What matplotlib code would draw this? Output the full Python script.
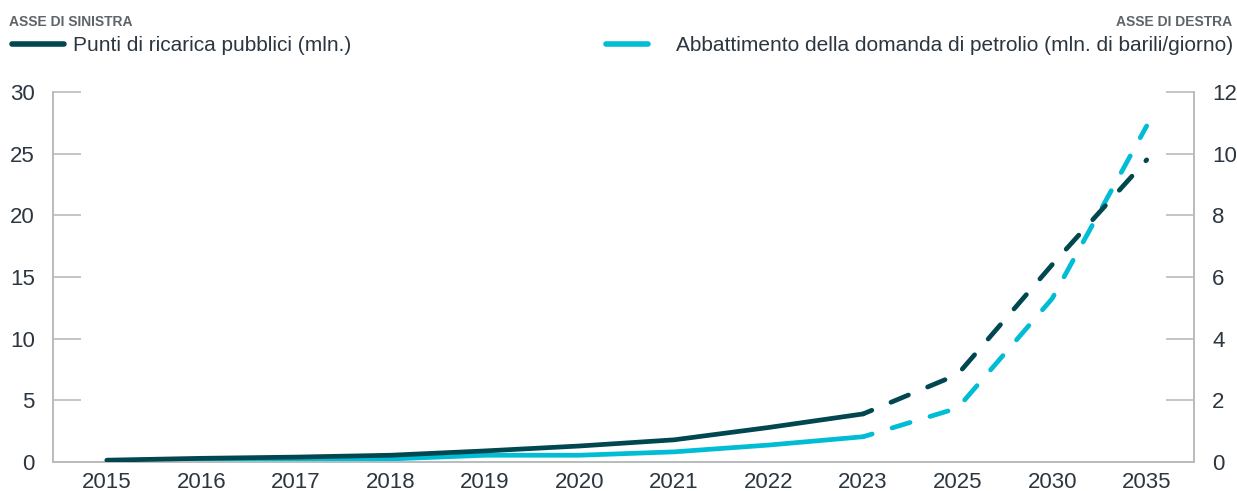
import numpy as np
import matplotlib.pyplot as plt
from matplotlib.lines import Line2D

plt.rcParams['font.family'] = ['Liberation Sans', 'DejaVu Sans']

# dati
anni = ['2015', '2016', '2017', '2018', '2019', '2020', '2021', '2022', '2023', '2025', '2030', '2035']
punti_ricarica = [0.15, 0.3, 0.4, 0.55, 0.9, 1.3, 1.8, 2.8, 3.9, 7.1, 16.0, 24.5]
abbattimento = [0.02, 0.05, 0.08, 0.1, 0.22, 0.22, 0.33, 0.55, 0.82, 1.75, 5.3, 10.9]
ultimo_storico = 8  # indice del 2023, dopo il quale le linee sono tratteggiate

col_scuro = '#00474f'
col_ciano = '#00bcd4'
col_testo = '#2b3640'
col_assi = '#b8bcbf'

x = np.arange(len(anni))

fig = plt.figure(figsize=(12.37, 4.91), dpi=100)
ax = fig.add_axes([0.0428, 0.059, 0.9224, 0.7536])
ax2 = ax.twinx()

stile = dict(lw=3.4, solid_capstyle='round', dash_capstyle='round')
tratt = (2.0, (4.0, 4.4))

ax.plot(x[:ultimo_storico + 1], punti_ricarica[:ultimo_storico + 1], color=col_scuro, zorder=3, **stile)
ax.plot(x[ultimo_storico:], punti_ricarica[ultimo_storico:], color=col_scuro, linestyle=tratt, zorder=3, **stile)
ax2.plot(x[:ultimo_storico + 1], abbattimento[:ultimo_storico + 1], color=col_ciano, zorder=2, **stile)
ax2.plot(x[ultimo_storico:], abbattimento[ultimo_storico:], color=col_ciano, linestyle=tratt, zorder=2, **stile)
ax.set_zorder(ax2.get_zorder() + 1)
ax.patch.set_visible(False)

ax.set_xlim(-0.57, 11.5)
ax.set_ylim(0, 30)
ax2.set_ylim(0, 12)
ax.set_xticks(x)
ax.set_xticklabels(anni)
ax.set_yticks(range(0, 31, 5))
ax2.set_yticks(range(0, 13, 2))

for a in (ax, ax2):
    a.spines['top'].set_visible(False)
    for s in ('left', 'right', 'bottom'):
        a.spines[s].set_color(col_assi)
        a.spines[s].set_linewidth(1.2)

ax.tick_params(axis='y', direction='in', length=20, width=1.2, color=col_assi,
               labelsize=16, labelcolor=col_testo, pad=13)
ax2.tick_params(axis='y', direction='in', length=20, width=1.2, color=col_assi,
                labelsize=16, labelcolor=col_testo, pad=13)
ax.tick_params(axis='x', length=0, labelsize=16, labelcolor=col_testo, pad=7)

# intestazioni assi
fig.text(0.007, 0.955, 'ASSE DI SINISTRA', fontsize=10, fontweight='bold', color='#5f6468',
         va='center', ha='left')
fig.text(0.996, 0.955, 'ASSE DI DESTRA', fontsize=10, fontweight='bold', color='#5f6468',
         va='center', ha='right')

# legende
h1 = Line2D([], [], color=col_scuro, lw=4, solid_capstyle='round')
h2 = Line2D([], [], color=col_ciano, lw=4, solid_capstyle='round')
fig.legend([h1], ['Punti di ricarica pubblici (mln.)'], loc='center left',
           bbox_to_anchor=(0.0095, 0.907), frameon=False, fontsize=15, handlelength=2.5,
           handletextpad=0.45, borderaxespad=0, borderpad=0, labelcolor=col_testo)
fig.legend([h2], ['Abbattimento della domanda di petrolio (mln. di barili/giorno)'], loc='center right',
           bbox_to_anchor=(0.997, 0.907), frameon=False, fontsize=15, handlelength=2.0,
           handletextpad=1.35, borderaxespad=0, borderpad=0, labelcolor=col_testo)

fig.savefig('out.png', dpi=100)
